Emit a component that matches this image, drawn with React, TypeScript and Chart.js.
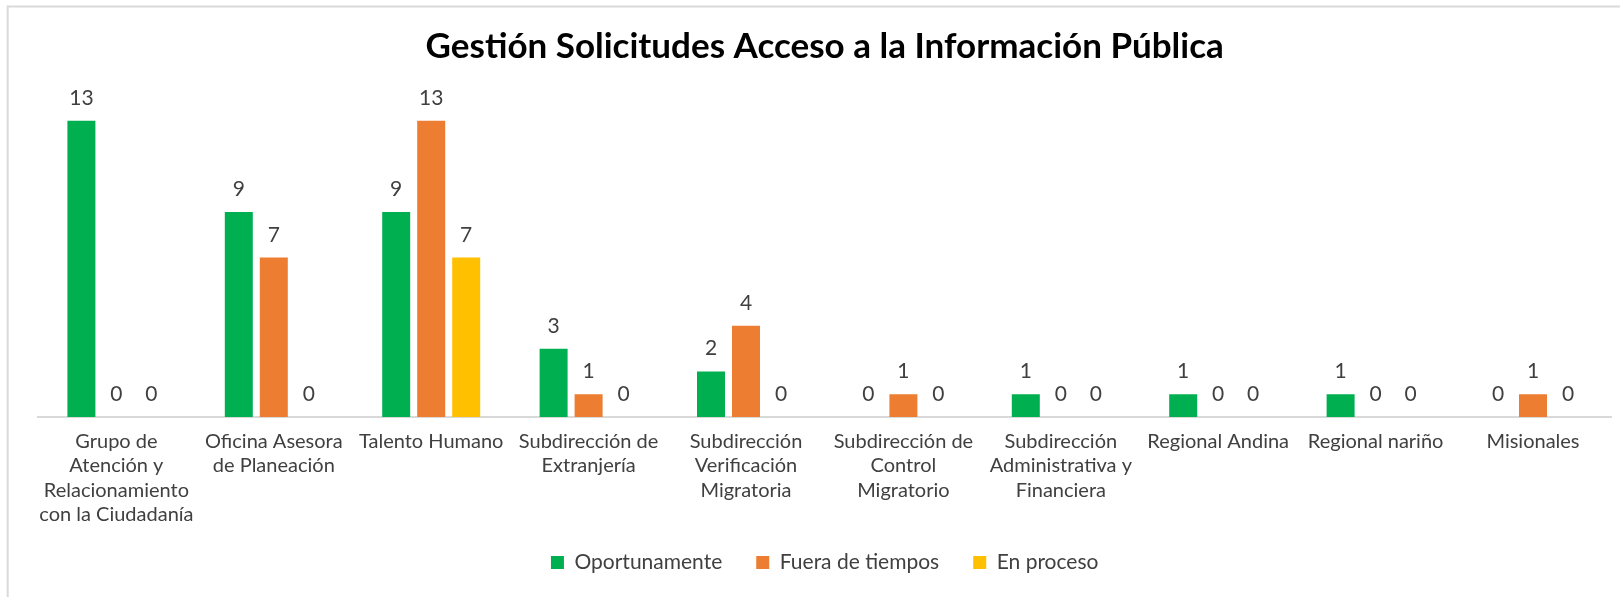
import React, { useEffect, useRef } from "react";
import { Chart, registerables } from "chart.js";

Chart.register(...registerables);

const titleText = "Gestión Solicitudes Acceso a la Información Pública";

const categories: string[][] = [
  ["Grupo de", "Atención y", "Relacionamiento", "con la Ciudadanía"],
  ["Oficina Asesora", "de Planeación"],
  ["Talento Humano"],
  ["Subdirección de", "Extranjería"],
  ["Subdirección", "Verificación", "Migratoria"],
  ["Subdirección de", "Control", "Migratorio"],
  ["Subdirección", "Administrativa y", "Financiera"],
  ["Regional Andina"],
  ["Regional nariño"],
  ["Misionales"],
];

const seriesNames = ["Oportunamente", "Fuera de tiempos", "En proceso"];
const oportunamente = [13, 9, 9, 3, 2, 0, 1, 1, 1, 0];
const fueraDeTiempos = [0, 7, 13, 1, 4, 1, 0, 0, 0, 1];
const enProceso = [0, 0, 7, 0, 0, 0, 0, 0, 0, 0];
const seriesColors = ["#00B050", "#ED7D31", "#FFC000"];
const yMin = 0;
const yMax = 14;

const FONT = "Lato";
const TEXT = "#404040";

const frame = {
  id: "frame",
  beforeDraw(chart: any) {
    const { ctx, width, height } = chart;
    ctx.save();
    ctx.fillStyle = "#ffffff";
    ctx.fillRect(0, 0, width, height);
    ctx.strokeStyle = "#d9d9d9";
    ctx.lineWidth = 2;
    ctx.strokeRect(7.7, 6.5, width + 20, height + 20);
    ctx.restore();
  },
};

// widen the x-axis label clip region so the 4-line label is not cut
const labelRoom = {
  id: "labelRoom",
  afterLayout(chart: any) {
    const x = chart.scales.x;
    if (x) x.bottom = x.top + 125;
  },
};

const valueLabels = {
  id: "valueLabels",
  afterDatasetsDraw(chart: any) {
    const { ctx } = chart;
    ctx.save();
    ctx.font = `21px ${FONT}`;
    ctx.fillStyle = TEXT;
    ctx.textAlign = "center";
    ctx.textBaseline = "alphabetic";
    chart.data.datasets.forEach((ds: any, i: number) => {
      const meta = chart.getDatasetMeta(i);
      meta.data.forEach((el: any, j: number) => {
        ctx.fillText(String(ds.data[j]), el.x, el.y - 16);
      });
    });
    ctx.restore();
  },
};

export default function App() {
  const ref = useRef<HTMLCanvasElement | null>(null);

  useEffect(() => {
    if (!ref.current) return;
    const values = [oportunamente, fueraDeTiempos, enProceso];
    const chart = new Chart(ref.current, {
      type: "bar",
      data: {
        labels: categories,
        datasets: seriesNames.map((name, i) => ({
          label: name,
          data: values[i],
          backgroundColor: seriesColors[i],
          borderWidth: 0,
          categoryPercentage: 0.667,
          barPercentage: 0.8,
        })),
      },
      options: {
        responsive: false,
        animation: false,
        devicePixelRatio: 1,
        layout: { padding: { left: 37.7, right: 8.3, top: 0, bottom: 13.9 } },
        plugins: {
          title: {
            display: true,
            text: titleText,
            color: "#000000",
            font: { family: FONT, size: 35, weight: "bold", lineHeight: 1.2 },
            padding: { top: 26, bottom: 30 },
          },
          legend: {
            display: true,
            position: "bottom",
            labels: {
              boxWidth: 13,
              boxHeight: 13,
              padding: 34,
              color: TEXT,
              font: { family: FONT, size: 21 },
            },
          },
          tooltip: { enabled: false },
        },
        scales: {
          x: {
            offset: true,
            grid: { display: true, drawOnChartArea: false, drawTicks: false, tickLength: 0 },
            border: { display: true, color: "#d9d9d9", width: 2 },
            ticks: {
              color: TEXT,
              font: { family: FONT, size: 20, lineHeight: 1.22 },
              padding: 12.1,
              maxRotation: 0,
              minRotation: 0,
              autoSkip: false,
            },
            afterFit: (scale: any) => {
              scale.height = 101.1;
            },
          },
          y: {
            display: false,
            min: yMin,
            max: yMax,
          },
        },
      },
      plugins: [frame, labelRoom, valueLabels],
    });
    return () => chart.destroy();
  }, []);

  return (
    <div style={{ position: "absolute", left: 0, top: 0, width: 1620, height: 597 }}>
      <canvas ref={ref} width={1620} height={597} style={{ display: "block" }} />
    </div>
  );
}
